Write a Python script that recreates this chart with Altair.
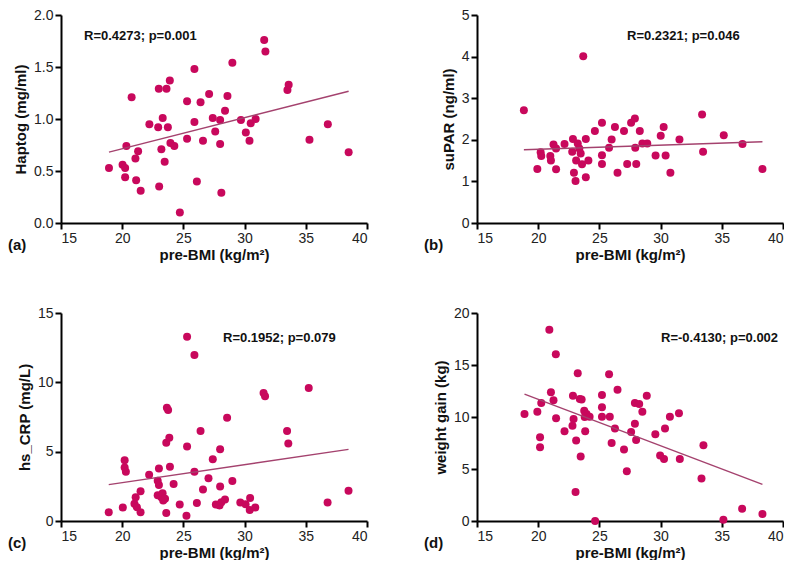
import altair as alt
import pandas as pd

FONT = "Liberation Sans"
PT_COLOR = "#C8085C"
LINE_COLOR = "#A4426E"

x_ticks = [15, 20, 25, 30, 35, 40]
x_title = "pre-BMI (kg/m²)"

# Panel (a)
bmi_a = [18.92, 20.03, 20.24, 20.24, 20.34, 20.77, 21.08, 21.30, 21.14, 21.51,
         22.22, 22.99, 23.02, 22.94, 23.31, 23.20, 23.47, 23.62, 23.73, 23.89,
         23.94, 24.26, 24.71, 25.3, 25.3, 25.9, 25.9, 26.1, 26.4, 26.6,
         27.1, 27.4, 27.6, 28.0, 28.0, 28.1, 28.4, 28.6, 29.0, 29.7,
         30.1, 30.4, 30.5, 30.9, 31.6, 31.7, 33.5, 33.6, 35.3, 36.8, 38.5]
haptog = [0.53, 0.56, 0.53, 0.44, 0.74, 1.21, 0.62, 0.69, 0.41, 0.31,
          0.95, 1.29, 0.35, 0.92, 1.01, 0.71, 0.59, 1.29, 0.92, 1.37,
          0.77, 0.74, 0.10, 1.17, 0.81, 1.48, 0.97, 0.40, 1.16, 0.79,
          1.24, 1.01, 0.88, 0.99, 0.76, 0.29, 1.08, 1.22, 1.54, 0.99,
          0.87, 0.79, 0.96, 1.00, 1.76, 1.65, 1.28, 1.33, 0.80, 0.95, 0.68]

# Panel (b)
bmi_b = [18.83, 19.93, 20.20, 20.25, 20.99, 21.04, 21.25, 21.46, 21.46, 22.15,
         22.84, 22.78, 22.92, 23.05, 23.10, 23.23, 23.36, 23.58, 23.47, 23.68,
         23.89, 23.89, 24.10, 24.63, 25.21, 25.21, 25.21, 25.79, 26.00, 26.27,
         26.48, 27.01, 27.27, 27.59, 27.90, 27.93, 28.01, 28.30, 28.51, 28.91,
         29.59, 30.01, 30.25, 30.41, 30.80, 31.54, 33.39, 33.47, 35.16, 36.69, 38.32]
supar = [2.71, 1.30, 1.70, 1.61, 1.61, 1.50, 1.89, 1.79, 1.29, 1.90,
         2.02, 1.71, 1.21, 1.01, 1.50, 1.91, 1.79, 1.41, 1.67, 4.01,
         2.02, 1.10, 1.50, 2.21, 2.41, 1.63, 1.42, 1.81, 2.01, 2.31,
         1.21, 2.21, 1.42, 2.41, 2.51, 1.81, 1.42, 2.21, 1.91, 1.91,
         1.62, 2.10, 2.31, 1.62, 1.21, 2.01, 2.61, 1.71, 2.11, 1.90, 1.30]

# Panel (c)
bmi_c = [18.9, 20.05, 20.2, 20.2, 20.3, 21.0, 21.1, 21.2, 21.5, 21.5,
         22.2, 22.9, 23.0, 23.0, 22.9, 23.2, 23.35, 23.3, 23.5, 23.6,
         23.65, 23.75, 23.6, 23.85, 23.9, 24.2, 24.7, 25.25, 25.3, 25.3,
         25.9, 25.9, 26.1, 26.4, 26.6, 27.05, 27.4, 27.65, 27.95, 28.0,
         28.0, 28.1, 28.4, 28.57, 29.0, 29.65, 30.08, 30.45, 30.42, 30.87,
         31.55, 31.67, 33.47, 33.57, 35.24, 36.78, 38.49]
hs_crp = [0.64, 0.97, 4.39, 3.85, 3.55, 1.24, 1.72, 1.0, 2.15, 0.64,
          3.34, 2.9, 2.6, 3.79, 1.85, 1.72, 1.48, 2.0, 1.6, 0.57,
          8.16, 8.0, 5.65, 6.0, 3.91, 2.67, 1.19, 0.38, 13.29, 5.37,
          11.98, 3.55, 1.29, 6.49, 2.28, 3.08, 4.46, 1.19, 1.12, 5.17,
          2.48, 1.36, 1.55, 7.44, 2.88, 1.33, 1.2, 1.66, 0.8, 0.97,
          9.23, 8.99, 6.49, 5.58, 9.59, 1.33, 2.19]

# Panel (d)
bmi_d = [18.88, 19.93, 20.25, 20.15, 20.15, 20.91, 21.04, 21.25, 21.44, 21.46,
         22.15, 22.84, 22.89, 22.8, 23.1, 23.05, 23.23, 23.4, 23.55, 23.47,
         23.8, 23.76, 23.84, 23.95, 24.2, 24.65, 25.21, 25.21, 25.21, 25.79,
         25.85, 26.0, 26.27, 26.48, 27.01, 27.24, 27.59, 27.9, 27.9, 28.0,
         28.25, 28.51, 28.87, 29.57, 29.96, 30.28, 30.36, 30.76, 31.5, 31.57,
         33.5, 33.34, 35.13, 36.66, 38.32]
weight_gain = [10.3, 10.5, 11.34, 8.05, 7.09, 18.4, 12.37, 11.6, 16.04, 9.87,
               8.63, 12.04, 9.81, 9.17, 7.73, 2.78, 14.2, 11.73, 11.68, 6.2,
               10.0, 10.6, 8.63, 10.3, 10.03, 0.0, 12.11, 10.93, 10.03, 14.12,
               10.03, 7.5, 8.9, 12.62, 6.87, 4.79, 8.55, 11.34, 9.35, 7.8,
               11.25, 10.51, 12.04, 8.35, 6.29, 5.97, 8.9, 10.03, 10.35, 5.97,
               7.28, 4.09, 0.13, 1.18, 0.67]

W = 306
H = 208


def panel(xs, ys, ytitle, ymax, yticks, yfmt, ann, ann_x, ann_y, tag):
    df = pd.DataFrame({"bmi": xs, "val": ys})
    xenc = alt.X("bmi:Q", scale=alt.Scale(domain=[15, 40], nice=False, zero=False),
                 axis=alt.Axis(values=x_ticks, title=x_title, format="d"))
    yenc = alt.Y("val:Q", scale=alt.Scale(domain=[0, ymax], nice=False),
                 axis=alt.Axis(values=yticks, title=ytitle, format=yfmt))
    pts = alt.Chart(df).mark_circle(size=64, color=PT_COLOR, opacity=1).encode(x=xenc, y=yenc)
    line = (alt.Chart(df).transform_regression("bmi", "val")
            .mark_line(color=LINE_COLOR, strokeWidth=1.4)
            .encode(x="bmi:Q", y="val:Q"))
    ann_df = pd.DataFrame({"t": [ann]})
    txt = alt.Chart(ann_df).mark_text(align="left", baseline="middle", fontWeight="bold",
                                      fontSize=13, font=FONT, color="#111").encode(
        x=alt.value(ann_x), y=alt.value(ann_y), text="t:N")
    tag_df = pd.DataFrame({"t": [tag]})
    tagtxt = alt.Chart(tag_df).mark_text(align="left", baseline="middle", fontWeight="bold",
                                         fontSize=15, font=FONT, color="#111").encode(
        x=alt.value(-53), y=alt.value(H + 22), text="t:N")
    return alt.layer(pts, line, txt, tagtxt).properties(width=W, height=H)


pa = panel(bmi_a, haptog, "Haptog (mg/ml)", 2.0, [0, 0.5, 1.0, 1.5, 2.0], ".1f",
           "R=0.4273; p=0.001", 23, 21, "(a)")
pb = panel(bmi_b, supar, "suPAR (ng/ml)", 5, [0, 1, 2, 3, 4, 5], "d",
           "R=0.2321; p=0.046", 150, 21, "(b)")
pc = panel(bmi_c, hs_crp, "hs_CRP (mg/L)", 15, [0, 5, 10, 15], "d",
           "R=0.1952; p=0.079", 162, 25, "(c)")
pd_ = panel(bmi_d, weight_gain, "weight gain (kg)", 20, [0, 5, 10, 15, 20], "d",
            "R=-0.4130; p=0.002", 184, 25, "(d)")

chart = (alt.concat(pa, pb, pc, pd_, columns=2, spacing={"row": 90, "column": 110},
                    bounds="flush")
         .properties(padding={"left": 0, "top": 0, "right": 0, "bottom": 0}, background="white")
         .configure_view(stroke=None)
         .configure_axis(grid=False, domainColor="black", domainWidth=2, tickColor="black",
                         tickWidth=2, tickSize=6, labelFont=FONT, labelFontSize=14,
                         labelColor="#222", titleFont=FONT, titleFontSize=15,
                         titleFontWeight="bold", titleColor="#111", labelPadding=2,
                         titlePadding=5)
         .configure_axisX(titlePadding=2))

chart.save("out.html", embed_options={"renderer": "svg", "actions": False})
